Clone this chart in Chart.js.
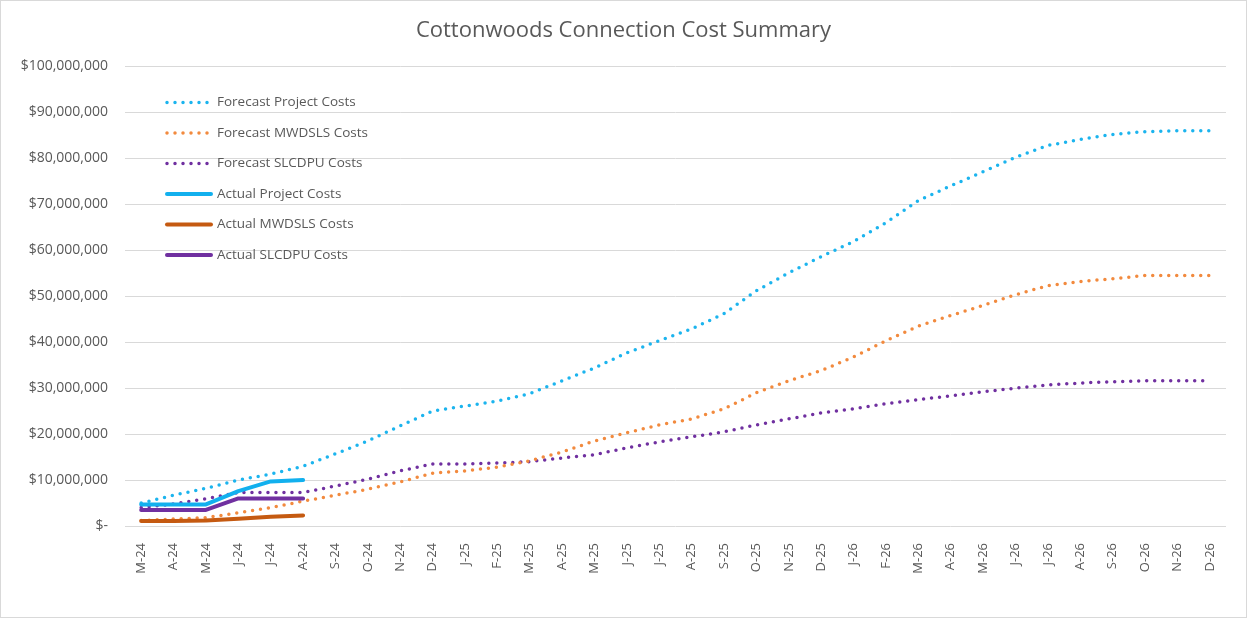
<!DOCTYPE html>
<html>
<head>
<meta charset="utf-8">
<script src="https://cdn.jsdelivr.net/npm/chart.js@4.4.1/dist/chart.umd.min.js"></script>
<style>
  html, body { margin: 0; padding: 0; background: #fff; }
  #wrap { position: absolute; left: 0; top: 0; width: 1245px; height: 616px; border: 1px solid #d9d9d9; }
</style>
</head>
<body>
<div id="wrap"><canvas id="costChart"></canvas></div>
<script>
const months = ["M-24","A-24","M-24","J-24","J-24","A-24","S-24","O-24","N-24","D-24",
  "J-25","F-25","M-25","A-25","M-25","J-25","J-25","A-25","S-25","O-25","N-25","D-25",
  "J-26","F-26","M-26","A-26","M-26","J-26","J-26","A-26","S-26","O-26","N-26","D-26"];

// values in dollars
const forecastProject = [5.0e6, 6.7e6, 8.2e6, 10.0e6, 11.3e6, 13.0e6, 15.7e6, 18.5e6, 21.8e6, 25.0e6,
  26.1e6, 27.2e6, 28.8e6, 31.6e6, 34.4e6, 37.7e6, 40.3e6, 42.9e6, 46.2e6, 51.2e6, 55.1e6, 58.6e6,
  61.9e6, 66.0e6, 70.8e6, 74.0e6, 77.1e6, 80.2e6, 82.8e6, 84.1e6, 85.2e6, 85.8e6, 86.0e6, 86.0e6];
const forecastMwdsls = [1.2e6, 1.5e6, 1.8e6, 2.9e6, 4.0e6, 5.4e6, 6.7e6, 8.0e6, 9.6e6, 11.5e6,
  12.0e6, 12.8e6, 14.2e6, 16.1e6, 18.5e6, 20.3e6, 22.0e6, 23.3e6, 25.5e6, 29.0e6, 31.6e6, 33.8e6,
  36.8e6, 40.3e6, 43.5e6, 45.8e6, 48.0e6, 50.3e6, 52.3e6, 53.2e6, 53.8e6, 54.5e6, 54.5e6, 54.5e6];
const forecastSlcdpu = [4.0e6, 4.8e6, 5.9e6, 7.3e6, 7.3e6, 7.3e6, 8.7e6, 10.2e6, 12.0e6, 13.5e6,
  13.5e6, 13.7e6, 14.0e6, 14.8e6, 15.5e6, 17.0e6, 18.3e6, 19.4e6, 20.5e6, 22.0e6, 23.3e6, 24.6e6,
  25.5e6, 26.6e6, 27.5e6, 28.3e6, 29.2e6, 30.0e6, 30.7e6, 31.1e6, 31.4e6, 31.6e6, 31.6e6, 31.6e6];
const actualProject = [4.7e6, 4.7e6, 4.7e6, 7.6e6, 9.7e6, 10.0e6];
const actualMwdsls = [1.1e6, 1.1e6, 1.2e6, 1.6e6, 2.0e6, 2.3e6];
const actualSlcdpu = [3.5e6, 3.5e6, 3.5e6, 6.0e6, 6.0e6, 6.0e6];

const textColor = "#595959";
const dots = [0, 8];

function dotted(label, data, color) {
  return { label, data, borderColor: color, backgroundColor: color, borderWidth: 3.5,
    borderDash: dots, borderCapStyle: "round", pointRadius: 0, tension: 0, order: 1 };
}
function solid(label, data, color) {
  return { label, data, borderColor: color, backgroundColor: color, borderWidth: 4,
    borderCapStyle: "round", borderJoinStyle: "round", pointRadius: 0, tension: 0, order: 0 };
}

// legend drawn inside the plot area, like the original
const insideLegend = {
  id: "insideLegend",
  afterDraw(chart) {
    const { ctx, chartArea } = chart;
    const x0 = chartArea.left + 40;
    const y0 = chartArea.top + 36;
    ctx.save();
    ctx.font = "13.5px 'Open Sans'";
    ctx.textBaseline = "middle";
    chart.data.datasets.forEach((ds, i) => {
      const y = y0 + i * 30.5;
      ctx.beginPath();
      ctx.strokeStyle = ds.borderColor;
      ctx.lineWidth = ds.borderWidth;
      ctx.lineCap = "round";
      ctx.setLineDash(ds.borderDash || []);
      ctx.moveTo(x0 + 2, y);
      ctx.lineTo(x0 + 46, y);
      ctx.stroke();
      ctx.setLineDash([]);
      ctx.fillStyle = textColor;
      ctx.fillText(ds.label, x0 + 52, y);
    });
    ctx.restore();
  }
};

new Chart(document.getElementById("costChart"), {
  type: "line",
  data: {
    labels: months,
    datasets: [
      dotted("Forecast Project Costs", forecastProject, "#1cb4ee"),
      dotted("Forecast MWDSLS Costs", forecastMwdsls, "#f28a3e"),
      dotted("Forecast SLCDPU Costs", forecastSlcdpu, "#7030a0"),
      solid("Actual Project Costs", actualProject, "#12b0ee"),
      solid("Actual MWDSLS Costs", actualMwdsls, "#c55a11"),
      solid("Actual SLCDPU Costs", actualSlcdpu, "#7030a0")
    ]
  },
  options: {
    responsive: true,
    maintainAspectRatio: false,
    animation: false,
    layout: { padding: 0 },
    plugins: {
      legend: { display: false },
      tooltip: { enabled: false },
      title: {
        display: true,
        text: "Cottonwoods Connection Cost Summary",
        color: textColor,
        font: { family: "'Open Sans'", size: 22, weight: "normal" },
        padding: { top: 17, bottom: 22 }
      }
    },
    scales: {
      x: {
        offset: true,
        grid: { display: false },
        border: { display: false },
        ticks: {
          color: textColor, autoSkip: false, maxRotation: 90, minRotation: 90, padding: 9,
          font: { family: "'Open Sans'", size: 13 }
        },
        afterFit(scale) { scale.height = 91; }
      },
      y: {
        min: 0,
        max: 100000000,
        border: { display: false },
        grid: { color: "#d9d9d9", lineWidth: 1, drawTicks: false },
        ticks: {
          stepSize: 10000000, color: textColor, padding: 17,
          font: { family: "'Open Sans'", size: 14 },
          callback: (v) => v === 0 ? "$-" : "$" + v.toLocaleString("en-US")
        },
        afterFit(scale) { scale.width = 124; }
      },
      // empty right-hand axis that only reserves the right margin
      yRight: {
        position: "right",
        display: true,
        grid: { display: false },
        border: { display: false },
        ticks: { display: false },
        afterFit(scale) { scale.width = 20; }
      }
    }
  },
  plugins: [insideLegend]
});
</script>
</body>
</html>
